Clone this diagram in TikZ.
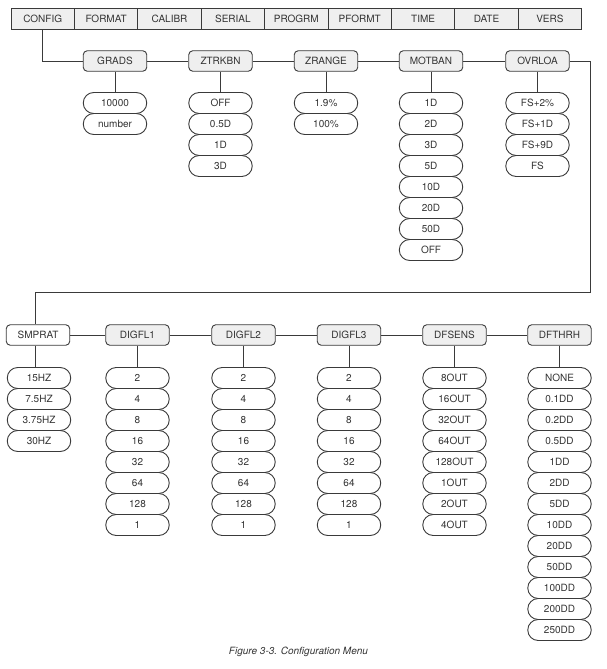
\documentclass[tikz,border=0pt]{standalone}
\usepackage{fontspec}
\setmainfont{TeX Gyre Heros}
\usetikzlibrary{calc}
\definecolor{ink}{HTML}{333333}
\definecolor{ln}{HTML}{3A3A3A}
\definecolor{pfill}{HTML}{EFEFEF}
\tikzset{
  menu/.style={draw=ln, line width=0.9pt, fill=pfill, rectangle, minimum width=63.4pt, minimum height=21pt, inner sep=0pt, text=ink, font=\fontsize{10}{12}\selectfont},
  param/.style={draw=ln, line width=0.9pt, fill=pfill, rounded corners=4pt, minimum width=63.5pt, minimum height=20.5pt, inner sep=0pt, text=ink, font=\fontsize{10}{12}\selectfont},
  val/.style={draw=ln, line width=0.9pt, fill=white, rounded corners=10.5pt, minimum width=63.5pt, minimum height=21pt, inner sep=0pt, text=ink, font=\fontsize{10}{12}\selectfont},
  conn/.style={draw=ln, line width=0.9pt},
}
\begin{document}
\begin{tikzpicture}[x=1pt,y=-1pt]
\useasboundingbox (0,0) rectangle (607,669);
% menu bar
\foreach \t [count=\i from 0] in {CONFIG,FORMAT,CALIBR,SERIAL,PROGRM,PFORMT,TIME,DATE,VERS}{
  \node[menu] (m\i) at ({11+63.4*\i+31.7},18.5) {\t};
}
% row 1 params
\node[param] (grads) at (115,61) {GRADS};
\node[param] (ztrk) at (220.5,61) {ZTRKBN};
\node[param] (zrange) at (326,61) {ZRANGE};
\node[param] (motban) at (431,61) {MOTBAN};
\node[param] (ovrloa) at (537.5,61) {OVRLOA};
\draw[conn] (m0.south) |- (grads.west);
\draw[conn] (grads.east) -- (ztrk.west);
\draw[conn] (ztrk.east) -- (zrange.west);
\draw[conn] (zrange.east) -- (motban.west);
\draw[conn] (motban.east) -- (ovrloa.west);
% row 1 values
\foreach \t [count=\i from 0] in {10000,number}{
  \node[val] (g\i) at (115,{103+21*\i}) {\t};
}
\foreach \t [count=\i from 0] in {OFF,0.5D,1D,3D}{
  \node[val] (z\i) at (220.5,{103+21*\i}) {\t};
}
\foreach \t [count=\i from 0] in {1.9\%,100\%}{
  \node[val] (r\i) at (326,{103+21*\i}) {\t};
}
\foreach \t [count=\i from 0] in {1D,2D,3D,5D,10D,20D,50D,OFF}{
  \node[val] (mb\i) at (431,{103+21*\i}) {\t};
}
\foreach \t [count=\i from 0] in {FS+2\%,FS+1D,FS+9D,FS}{
  \node[val] (o\i) at (537.5,{103+21*\i}) {\t};
}
\draw[conn] (grads.south) -- (g0.north);
\draw[conn] (ztrk.south) -- (z0.north);
\draw[conn] (zrange.south) -- (r0.north);
\draw[conn] (motban.south) -- (mb0.north);
\draw[conn] (ovrloa.south) -- (o0.north);
% row 2 params
\node[param, fill=white] (smprat) at (38,335) {SMPRAT};
\node[param] (dig1) at (137.5,335) {DIGFL1};
\node[param] (dig2) at (243.5,335) {DIGFL2};
\node[param] (dig3) at (349,335) {DIGFL3};
\node[param] (dfsens) at (454.5,335) {DFSENS};
\node[param] (dfthrh) at (559.5,335) {DFTHRH};
\coordinate (c1) at (590.5,61);
\coordinate (c2) at (590.5,292);
\coordinate (c3) at (35.5,292);
\draw[conn] (ovrloa.east) -- (c1) -- (c2) -- (c3) -- (c3 |- smprat.north);
\draw[conn] (smprat.east) -- (dig1.west);
\draw[conn] (dig1.east) -- (dig2.west);
\draw[conn] (dig2.east) -- (dig3.west);
\draw[conn] (dig3.east) -- (dfsens.west);
\draw[conn] (dfsens.east) -- (dfthrh.west);
% row 2 values
\foreach \t [count=\i from 0] in {15HZ,7.5HZ,3.75HZ,30HZ}{
  \node[val] (s\i) at (39,{378+21*\i}) {\t};
}
\foreach \t [count=\i from 0] in {2,4,8,16,32,64,128,1}{
  \node[val] (da\i) at (137.5,{378+21*\i}) {\t};
  \node[val] (db\i) at (243.5,{378+21*\i}) {\t};
  \node[val] (dc\i) at (349,{378+21*\i}) {\t};
}
\foreach \t [count=\i from 0] in {8OUT,16OUT,32OUT,64OUT,128OUT,1OUT,2OUT,4OUT}{
  \node[val] (ds\i) at (454.5,{378+21*\i}) {\t};
}
\foreach \t [count=\i from 0] in {NONE,0.1DD,0.2DD,0.5DD,1DD,2DD,5DD,10DD,20DD,50DD,100DD,200DD,250DD}{
  \node[val] (dt\i) at (559.5,{378+21*\i}) {\t};
}
\draw[conn] (c3 |- smprat.south) -- (c3 |- s0.north);
\draw[conn] (dig1.south) -- (da0.north);
\draw[conn] (dig2.south) -- (db0.north);
\draw[conn] (dig3.south) -- (dc0.north);
\draw[conn] (dfsens.south) -- (ds0.north);
\draw[conn] (dfthrh.south) -- (dt0.north);
% caption
\node[text=ink, font=\fontsize{10}{12}\selectfont\itshape] (cap) at (298.5,652) {Figure 3-3. Configuration Menu};
\end{tikzpicture}
\end{document}
